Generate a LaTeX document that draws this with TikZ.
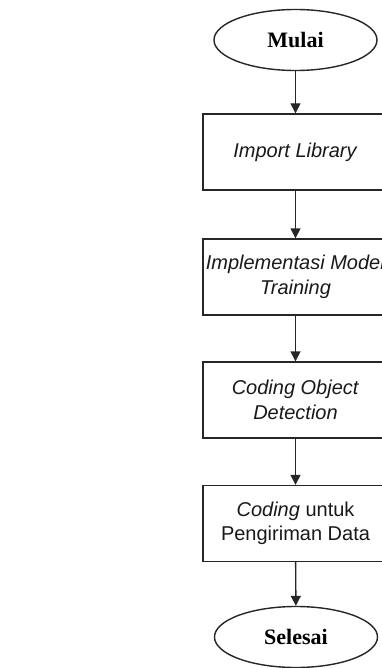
\documentclass[tikz,border=0pt]{standalone}
\usepackage{fontspec}
\setmainfont{Liberation Sans}
\newfontfamily\terminalfont{Liberation Serif}
\usetikzlibrary{shapes.geometric,arrows.meta}
\begin{document}
\begin{tikzpicture}[x=1pt,y=-1pt,
  procbox/.style={draw=black!85, line width=1.4pt, rectangle,
    minimum width=185pt, minimum height=76pt, inner sep=0pt,
    align=center, text=black!90, font=\fontsize{20}{24.5}\selectfont},
  terminal/.style={draw=black!85, line width=1.4pt, ellipse,
    minimum width=163pt, minimum height=61pt, inner sep=0pt,
    text=black, font=\terminalfont\bfseries\fontsize{22}{24}\selectfont},
  flow/.style={draw=black!85, line width=1.4pt,
    -{Triangle[length=10pt,width=10pt]}}
]
\useasboundingbox (0,0) rectangle (382,668);
\clip (0,0) rectangle (382,668);

% process steps, top to bottom
\node[terminal] (mulai) at (295.5,40) {Mulai};
\node[procbox] (lib) at (295.5,152) {\textit{Import Library}};
\node[procbox] (train) at (295.5,277) {\textit{Implementasi Model}\\\textit{Training}};
\node[procbox] (detect) at (295.5,400) {\textit{Coding Object}\\\textit{Detection}};
\node[procbox] (kirim) at (295.5,523.5) {\textit{Coding} untuk\\Pengiriman Data};
\node[terminal] (selesai) at (296,637) {Selesai};

% connectors
\draw[flow] (mulai) -- (lib);
\draw[flow] (lib) -- (train);
\draw[flow] (train) -- (detect);
\draw[flow] (detect) -- (kirim);
\draw[flow] (kirim) -- (selesai);
\end{tikzpicture}
\end{document}
